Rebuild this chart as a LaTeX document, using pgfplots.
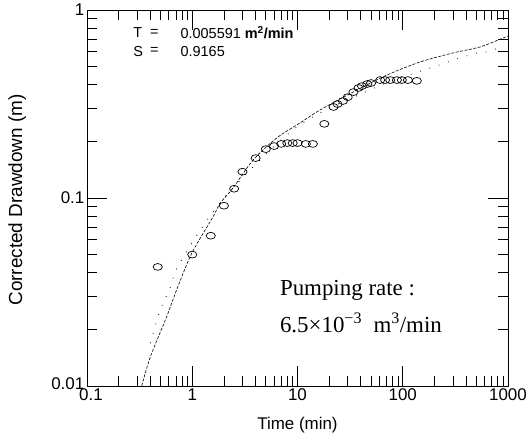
\documentclass[border=0pt]{standalone}
\usepackage{fontspec}
\setmainfont{Liberation Sans}
\newfontfamily\serifrm{Liberation Serif}
\usepackage{pgfplots}
\pgfplotsset{compat=1.18}

\begin{document}
\begin{tikzpicture}
\begin{axis}[
  xmode=log, ymode=log,
  scale only axis, width=421bp, height=376bp,
  xmin=0.1, xmax=1000, ymin=0.01, ymax=1,
  xtick={0.1,1,10,100,1000}, xticklabels={\hspace*{8bp}0.1,1,10,100,1000},
  ytick={0.01,0.1,1}, yticklabels={\raisebox{4bp}{0.01},0.1,1},
  minor xtick={0.2,0.3,0.4,0.5,0.6,0.7,0.8,0.9,2,3,4,5,6,7,8,9,20,30,40,50,60,70,80,90,200,300,400,500,600,700,800,900},
  minor ytick={0.02,0.03,0.04,0.05,0.06,0.07,0.08,0.09,0.2,0.3,0.4,0.5,0.6,0.7,0.8,0.9},
  tick align=inside, major tick length=20bp, minor tick length=10bp,
  tick style={black, line width=0.8pt},
  axis line style={line width=0.9pt},
  ticklabel style={font=\fontsize{17}{20}\selectfont},
  xticklabel style={inner sep=0.5bp, yshift=-2bp},
  yticklabel style={inner sep=2.5bp},
  xlabel={Time (min)}, ylabel={Corrected Drawdown (m)},
  xlabel style={font=\fontsize{17}{20}\selectfont, at={(axis description cs:0.5,-0.104)}, anchor=center},
  ylabel style={font=\fontsize{19}{22}\selectfont, at={(axis description cs:-0.166,0.495)}, anchor=center},
]
% fitted curve
\addplot[black, line width=0.6pt, dash pattern=on 3bp off 1.5bp, smooth] coordinates {
  (0.331,0.0100) (0.40,0.0143) (0.572,0.0234) (0.71,0.0324) (0.989,0.0508)
  (1.57,0.0792) (1.84,0.0937) (2.44,0.113) (3.78,0.159) (6.38,0.209)
  (10.6,0.251) (16.4,0.294) (33.7,0.366) (70.8,0.451) (146,0.529)
  (300,0.591) (542,0.636) (897,0.710) (1000,0.727)};
% sparse dotted curve
\addplot[black, line width=0.8pt, dash pattern=on 0.8bp off 9bp, smooth] coordinates {
  (0.40,0.0169) (0.49,0.0248) (0.62,0.0336) (0.77,0.0457) (2.0,0.100)
  (10,0.240) (51,0.380) (100,0.440) (194,0.497) (327,0.549) (507,0.591)
  (631,0.598) (804,0.628)};
% observed drawdown
\addplot[only marks, mark=o, mark size=4bp,
  mark options={xscale=1.15, yscale=0.85, line width=0.7pt}] coordinates {
  (0.47,0.043) (1.0,0.050) (1.5,0.063) (2.0,0.091) (2.5,0.112) (3.0,0.138)
  (4.0,0.163) (5.0,0.182) (6.0,0.189) (7.0,0.194) (8.0,0.196) (9.0,0.196)
  (10,0.196) (12,0.194) (14,0.194) (18,0.248) (22,0.305) (24,0.316)
  (27,0.328) (30,0.344) (34,0.366) (38,0.385) (41,0.394) (46,0.404)
  (50,0.409) (61,0.424) (68,0.424) (76,0.424) (88,0.424) (98,0.424)
  (112,0.424) (136,0.420)};
\node[anchor=west, font=\fontsize{14.5}{16}\selectfont] at (rel axis cs:0.102,0.939) {T};
\node[font=\fontsize{14.5}{16}\selectfont] at (rel axis cs:0.160,0.939) {=};
\node[anchor=west, font=\fontsize{14.5}{16}\selectfont] at (rel axis cs:0.214,0.939) {0.005591 \textbf{m\textsuperscript{2}/min}};
\node[anchor=west, font=\fontsize{14.5}{16}\selectfont] at (rel axis cs:0.102,0.890) {S};
\node[font=\fontsize{14.5}{16}\selectfont] at (rel axis cs:0.160,0.890) {=};
\node[anchor=west, font=\fontsize{14.5}{16}\selectfont] at (rel axis cs:0.214,0.890) {0.9165};
\node[anchor=west, inner sep=0pt, font=\serifrm\fontsize{23}{26}\selectfont] at (rel axis cs:0.458,0.255) {Pumping rate :};
\node[anchor=west, inner sep=0pt, font=\serifrm\fontsize{23}{26}\selectfont] at (rel axis cs:0.458,0.168) {6.5×10\textsuperscript{−3}\ \ m\textsuperscript{3}/min};
\end{axis}
\pgfresetboundingbox
\path (current axis.south west) +(-87bp,-55bp) (current axis.north east) +(22bp,10bp);
\end{tikzpicture}
\end{document}
